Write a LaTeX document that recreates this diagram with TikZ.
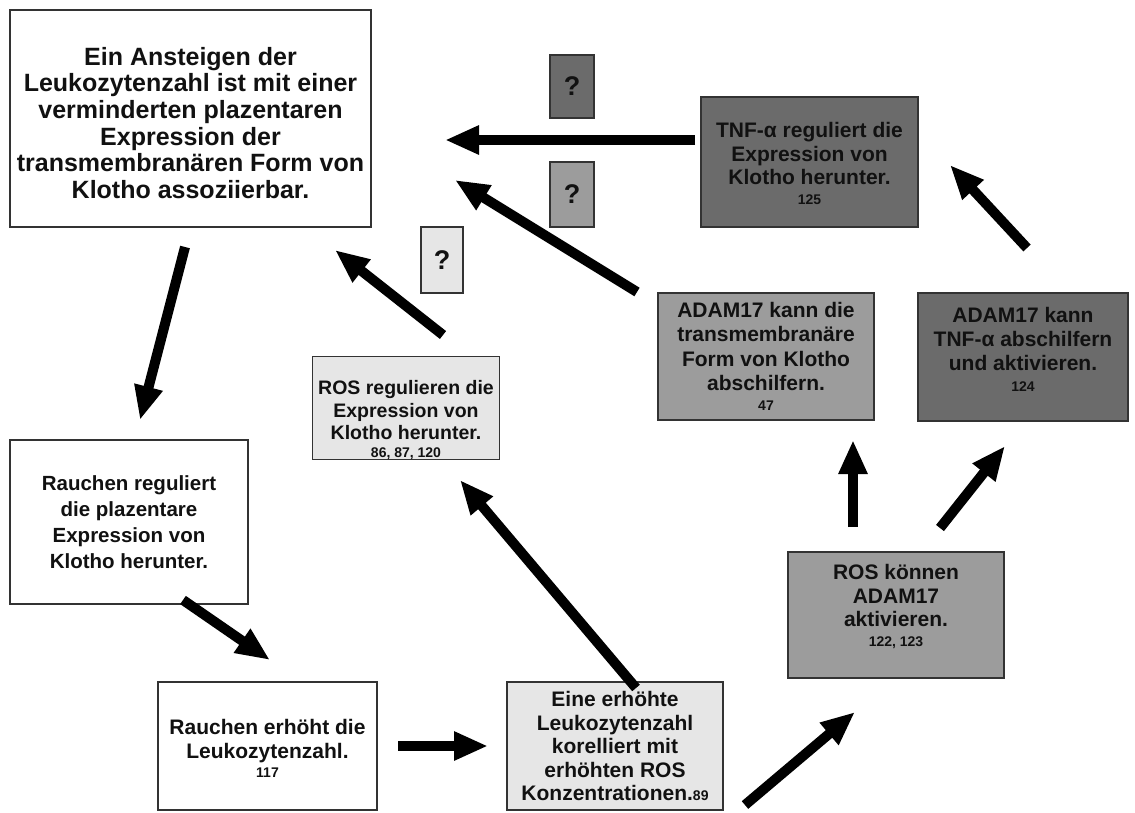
\documentclass[tikz,border=0pt]{standalone}
\usepackage{fontspec}
\setmainfont{Liberation Sans}
\usetikzlibrary{arrows.meta}
\definecolor{bordc}{HTML}{333333}
\definecolor{darkf}{HTML}{6B6B6B}
\definecolor{midf}{HTML}{9C9C9C}
\definecolor{lightf}{HTML}{E6E6E6}
\definecolor{txtc}{HTML}{111111}
\newcommand{\refnum}[1]{{\fontsize{14}{15}\selectfont #1}}
\newcommand{\refnumb}[1]{{\fontsize{14}{15}\selectfont\bfseries #1}}
\newcommand{\topgap}[1]{\rule{0pt}{#1}}
\newcommand{\botgap}[1]{\rule[-#1]{0pt}{#1}}
\begin{document}
\begin{tikzpicture}[x=1pt,y=-1pt,
  box/.style={draw=bordc, line width=1.2pt, inner sep=0pt, align=center,
    text=txtc, font=\bfseries\fontsize{21}{23.5}\selectfont},
  qbox/.style={box, font=\bfseries\fontsize{27}{30}\selectfont},
  arr/.style={line width=10pt, -{Triangle[length=34pt,width=27pt]}}]
\useasboundingbox (0,0) rectangle (1135,812);
\fill[white] (0,0) rectangle (1135,812);

% boxes
\node[box, fill=white, minimum width=361pt, minimum height=217pt,
  font=\bfseries\fontsize{25}{26.7}\selectfont] (A) at (190.5,118.5)
  {\topgap{27pt}Ein Ansteigen der\\Leukozytenzahl ist mit einer\\verminderten plazentaren\\Expression der\\transmembranären Form von\\Klotho assoziierbar.};
\node[box, fill=white, minimum width=238pt, minimum height=164pt,
  font=\bfseries\fontsize{20.5}{26}\selectfont] (B) at (129,522)
  {Rauchen reguliert\\die plazentare\\Expression von\\Klotho herunter.};
\node[box, fill=white, minimum width=219pt, minimum height=128pt] (C) at (267.5,746)
  {\topgap{20pt}Rauchen erhöht die\\Leukozytenzahl.\\[-4pt]\refnumb{117}};
\node[box, fill=lightf, minimum width=216pt, minimum height=128pt] (D) at (615,746)
  {Eine erhöhte\\Leukozytenzahl\\korelliert mit\\erhöhten ROS\\Konzentrationen.\refnum{89}};
\node[box, fill=lightf, minimum width=187pt, minimum height=102pt,
  font=\bfseries\fontsize{19.5}{22.5}\selectfont] (E) at (406,408)
  {\topgap{38pt}ROS regulieren die\\Expression von\\Klotho herunter.\\[-5pt]\refnum{86, 87, 120}};
\node[box, fill=midf, minimum width=216pt, minimum height=126pt] (F) at (896,615)
  {ROS können\\ADAM17\\aktivieren.\\[-4pt]\refnum{122, 123}\botgap{19pt}};
\node[box, fill=midf, minimum width=216pt, minimum height=127pt,
  font=\bfseries\fontsize{21}{24.3}\selectfont] (G) at (766,356.5)
  {ADAM17 kann die\\transmembranäre\\Form von Klotho\\abschilfern.\\[-4pt]\refnumb{47}};
\node[box, fill=darkf, minimum width=210pt, minimum height=128pt,
  font=\bfseries\fontsize{21}{24.3}\selectfont] (H) at (1023,357)
  {ADAM17 kann\\TNF-α abschilfern\\und aktivieren.\\[-4pt]\refnum{124}\botgap{16pt}};
\node[box, fill=darkf, minimum width=217pt, minimum height=130pt] (I) at (809.5,162)
  {\topgap{18pt}TNF-α reguliert die\\Expression von\\Klotho herunter.\\[-4pt]\refnum{125}};
\node[qbox, fill=darkf, minimum width=44pt, minimum height=63pt] (Q1) at (572,86.5) {?};
\node[qbox, fill=midf, minimum width=44pt, minimum height=65pt] (Q2) at (572,194.5) {?};
\node[qbox, fill=lightf, minimum width=42pt, minimum height=66pt] (Q3) at (442,260) {?};

% arrow end points
\coordinate (a1s) at (695,140);  \coordinate (a1e) at (445,140);
\coordinate (a2s) at (637,292);  \coordinate (a2e) at (455,180);
\coordinate (a3s) at (443,335);  \coordinate (a3e) at (335,250);
\coordinate (a4s) at (185,247);  \coordinate (a4e) at (140,420);
\coordinate (a5s) at (183,600);  \coordinate (a5e) at (270,660);
\coordinate (a6s) at (398,746);  \coordinate (a6e) at (488,746);
\coordinate (a7s) at (745,805);  \coordinate (a7e) at (855,712);
\coordinate (a8s) at (636,688);  \coordinate (a8e) at (460,480);
\coordinate (a9s) at (853,527);  \coordinate (a9e) at (853,440);
\coordinate (a10s) at (940,528); \coordinate (a10e) at (1005,446);
\coordinate (a11s) at (1027,248); \coordinate (a11e) at (950,165);

\draw[arr] (a1s) -- (a1e);
\draw[arr] (a2s) -- (a2e);
\draw[arr] (a3s) -- (a3e);
\draw[arr] (a4s) -- (a4e);
\draw[arr] (a5s) -- (a5e);
\draw[arr] (a6s) -- (a6e);
\draw[arr] (a7s) -- (a7e);
\draw[arr] (a8s) -- (a8e);
\draw[arr] (a9s) -- (a9e);
\draw[arr] (a10s) -- (a10e);
\draw[arr] (a11s) -- (a11e);
\end{tikzpicture}
\end{document}
